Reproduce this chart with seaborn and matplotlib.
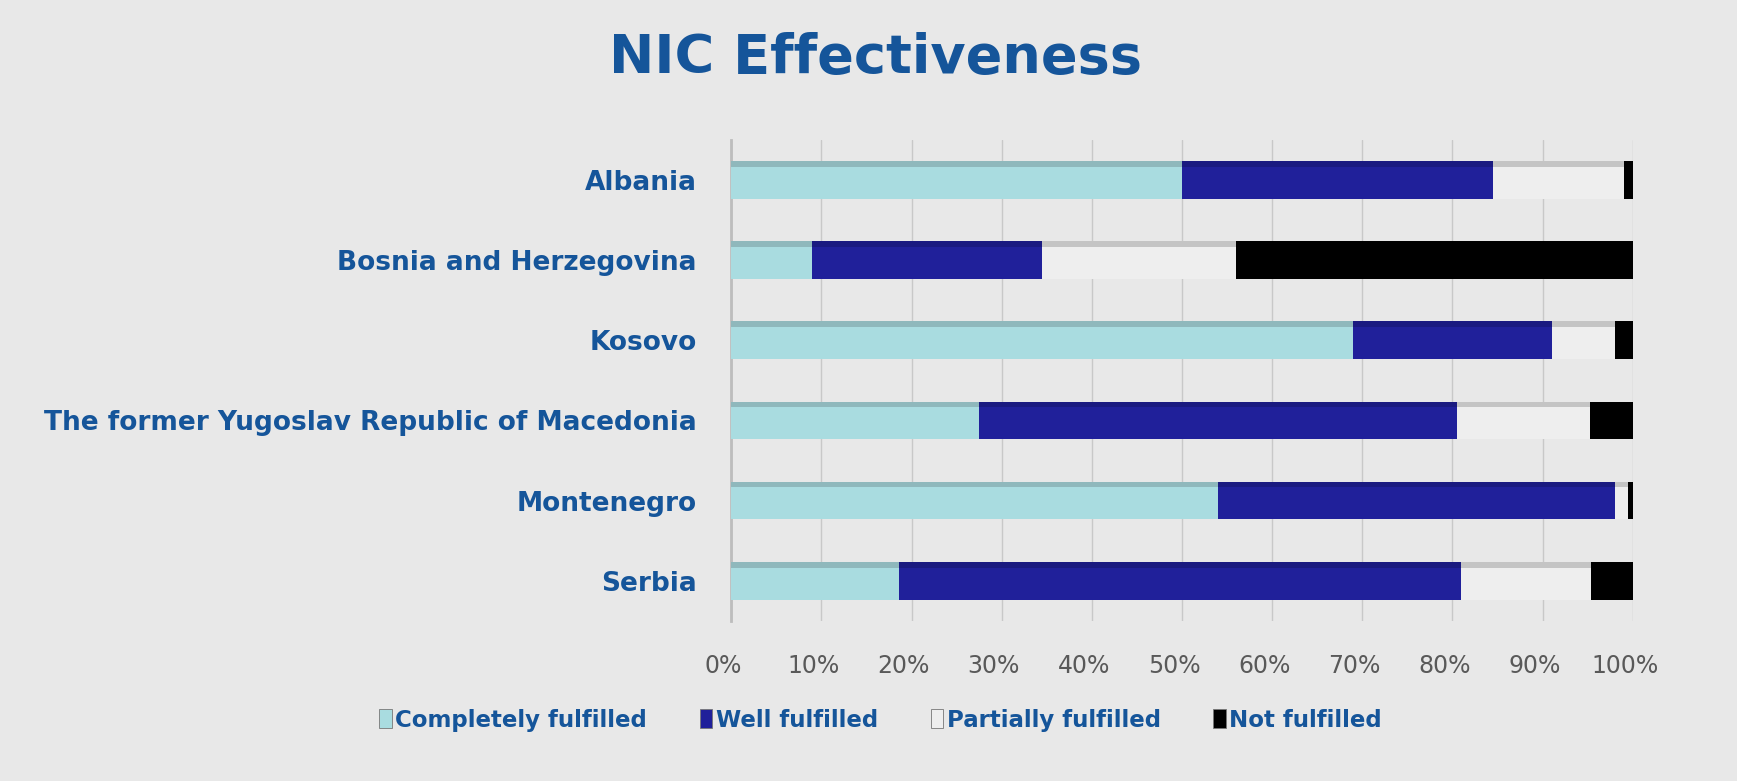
import numpy as np
import pandas as pd
import matplotlib.pyplot as plt
import matplotlib.transforms as mtransforms
import seaborn as sns
from matplotlib.patches import Patch

# data (percent shares)
countries = ["Albania", "Bosnia and Herzegovina", "Kosovo",
             "The former Yugoslav Republic of Macedonia", "Montenegro", "Serbia"]
completely = [50.0, 9.0, 69.0, 27.5, 54.0, 18.6]
well = [34.5, 25.5, 22.0, 53.0, 44.0, 62.3]
partially = [14.5, 21.5, 7.0, 14.8, 1.5, 14.5]
not_fulfilled = [1.0, 44.0, 2.0, 4.7, 0.5, 4.6]

series_names = ["Completely fulfilled", "Well fulfilled", "Partially fulfilled", "Not fulfilled"]
colors = ["#A9DCE0", "#20209A", "#EEEEEE", "#000000"]
top_colors = ["#8FB8BC", "#1A1A80", "#C4C4C4", "#000000"]

df = pd.DataFrame({"country": countries,
                   "Completely fulfilled": completely,
                   "Well fulfilled": well,
                   "Partially fulfilled": partially,
                   "Not fulfilled": not_fulfilled})

sns.set_style("white")
plt.rcParams["font.family"] = ["DejaVu Sans"]

bg = "#E8E8E8"
txt_blue = "#15559A"

fig = plt.figure(figsize=(17.37, 7.81), dpi=100)
fig.patch.set_facecolor(bg)
ax = fig.add_axes([0.421, 0.205, 0.519, 0.616])
ax.set_facecolor(bg)

# stacked bars: draw cumulative totals from the right-most segment down
cum = df[series_names].cumsum(axis=1)
for i in range(len(series_names) - 1, -1, -1):
    sns.barplot(x=cum[series_names[i]], y=df["country"], orient="h",
                color=colors[i], width=0.47, ax=ax, saturation=1, zorder=3,
                linewidth=0)
# darker top strip to hint at the 3D look
for i in range(len(series_names) - 1, -1, -1):
    for j, v in enumerate(cum[series_names[i]]):
        ax.barh(j - 0.2, v, height=0.07, color=top_colors[i], zorder=4, linewidth=0)

ax.set_xlim(0, 100)
ax.set_ylim(5.5, -0.5)
ax.set_xticks(np.arange(0, 101, 10))
ax.set_xticklabels([f"{t}%" for t in range(0, 101, 10)])
ax.tick_params(axis="x", labelsize=17, labelcolor="#595959", pad=24, length=0)
ax.tick_params(axis="y", labelsize=19, labelcolor=txt_blue, pad=25, length=0)
shift = mtransforms.ScaledTranslation(-8 / 100, 0, fig.dpi_scale_trans)
for lab in ax.get_xticklabels():
    lab.set_transform(lab.get_transform() + shift)
for lab in ax.get_yticklabels():
    lab.set_fontweight("bold")
ax.set_xlabel("")
ax.set_ylabel("")
ax.grid(axis="x", color="#C8C8C8", linewidth=1, zorder=0)
for s in ["top", "right", "bottom"]:
    ax.spines[s].set_visible(False)
ax.spines["left"].set_color("#BDBDBD")
ax.spines["left"].set_linewidth(2)

fig.text(0.504, 0.926, "NIC Effectiveness", ha="center", va="center",
         fontsize=39, fontweight="bold", color=txt_blue)

handles = [Patch(facecolor=c, edgecolor="#777777", linewidth=0.6) for c in colors]
leg = fig.legend(handles, series_names, loc="center", bbox_to_anchor=(0.507, 0.078),
                 ncol=4, frameon=False, handlelength=0.55, handleheight=0.9,
                 handletextpad=0.15, columnspacing=2.3, fontsize=16.5)
for t in leg.get_texts():
    t.set_color(txt_blue)
    t.set_fontweight("bold")

fig.savefig("out.png", dpi=100, facecolor=bg)
